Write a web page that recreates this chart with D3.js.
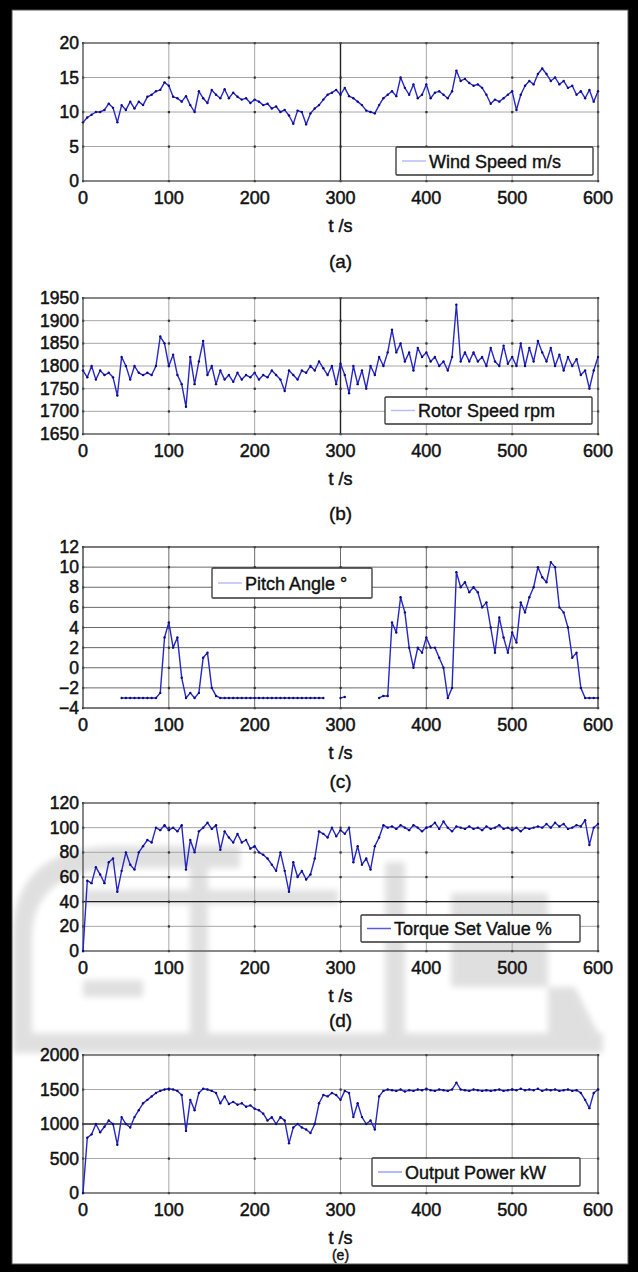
<!DOCTYPE html>
<html>
<head>
<meta charset="utf-8">
<script src="https://cdn.jsdelivr.net/npm/d3@7"></script>
<style>
  body { margin: 0; background: #000; }
  svg { display: block; }
  text { font-family: "Liberation Sans", Arial, sans-serif; fill: #111; }
</style>
</head>
<body>
<svg id="chart"></svg>
<script>
// time axis, one sample every 5 s
const time = d3.range(0, 601, 5);

const windSpeed = [8.5, 9.2, 9.6, 10.0, 10.0, 10.3, 11.2, 10.6, 8.5, 11.0, 10.3, 11.5, 10.5, 11.5, 11.0, 12.2, 12.5, 13.0, 13.2, 14.3,
  13.8, 12.2, 12.0, 11.5, 12.3, 11.0, 10.0, 13.0, 12.0, 11.3, 13.2, 12.5, 12.0, 13.3, 12.0, 12.8, 12.2, 11.8, 12.0, 11.3,
  11.8, 11.5, 11.0, 11.2, 10.5, 10.8, 10.0, 10.3, 9.5, 8.3, 10.2, 10.0, 8.2, 9.8, 10.5, 11.0, 11.8, 12.5, 12.8, 13.2,
  12.5, 13.5, 12.3, 12.0, 11.5, 11.0, 10.2, 10.0, 9.8, 11.0, 12.0, 12.5, 13.0, 12.3, 15.0, 13.5, 12.5, 14.0, 12.0, 12.5,
  14.0, 12.0, 12.8, 13.0, 12.5, 12.0, 13.0, 16.0, 14.5, 14.8, 14.2, 13.8, 14.0, 13.5, 12.5, 11.2, 11.8, 11.5, 12.0, 12.5,
  13.0, 10.3, 12.5, 13.8, 14.5, 14.0, 15.5, 16.3, 15.5, 14.5, 15.0, 14.0, 14.5, 13.5, 13.8, 12.5, 13.0, 12.0, 13.2, 11.5,
  13.0];

const rotorSpeed = [1790, 1775, 1800, 1770, 1790, 1780, 1785, 1775, 1735, 1820, 1800, 1770, 1800, 1785, 1780, 1785, 1780, 1800, 1865, 1850,
  1800, 1825, 1780, 1760, 1710, 1820, 1760, 1810, 1855, 1780, 1800, 1760, 1790, 1770, 1780, 1765, 1785, 1770, 1780, 1775,
  1785, 1770, 1780, 1775, 1790, 1780, 1770, 1745, 1790, 1780, 1770, 1790, 1785, 1800, 1790, 1810, 1795, 1780, 1800, 1760,
  1805, 1780, 1740, 1800, 1760, 1790, 1750, 1800, 1780, 1820, 1800, 1830, 1880, 1830, 1850, 1810, 1830, 1790, 1840, 1820,
  1830, 1810, 1820, 1800, 1810, 1790, 1820, 1935, 1810, 1830, 1810, 1830, 1810, 1820, 1800, 1840, 1810, 1800, 1845, 1805,
  1820, 1800, 1850, 1800, 1840, 1810, 1855, 1830, 1810, 1840, 1800, 1825, 1790, 1820, 1800, 1815, 1780, 1790, 1750, 1790,
  1820];

const pitchAngle = [null, null, null, null, null, null, null, null, null, -3, -3, -3, -3, -3, -3, -3, -3, -3, -2.5, 3,
  4.5, 2, 3, -1, -3, -2.5, -3, -2.5, 1, 1.5, -2, -2.8, -3, -3, -3, -3, -3, -3, -3, -3,
  -3, -3, -3, -3, -3, -3, -3, -3, -3, -3, -3, -3, -3, -3, -3, -3, -3, null, null, null,
  -3, -2.9, null, null, null, null, null, null, null, -3, -2.8, -2.8, 4.5, 3.5, 7, 5.5, 2, 0, 2, 1.5,
  3, 2, 2, 1, 0, -3, -2, 9.5, 8, 8.5, 7.5, 8, 7.5, 6, 6.5, 4, 1.5, 5, 3, 1.5,
  3.5, 2.5, 6.5, 5.5, 7, 8, 10, 9, 8.5, 10.5, 10, 6, 5.5, 4, 1, 1.5, -2, -3, -3, -3,
  -3];

const torque = [0, 57, 55, 68, 62, 55, 72, 75, 48, 65, 80, 70, 66, 80, 85, 90, 88, 100, 98, 102,
  98, 100, 97, 102, 66, 90, 80, 97, 100, 104, 99, 102, 82, 97, 92, 88, 95, 88, 90, 83,
  85, 80, 78, 75, 70, 65, 80, 65, 48, 72, 60, 65, 58, 62, 75, 97, 95, 92, 100, 93,
  98, 95, 100, 72, 85, 70, 75, 66, 85, 92, 102, 100, 101, 99, 102, 100, 98, 102, 100, 97,
  100, 101, 104, 99, 105, 100, 97, 101, 100, 99, 101, 99, 100, 98, 101, 99, 100, 102, 99, 100,
  98, 100, 97, 100, 99, 100, 101, 100, 103, 100, 104, 101, 103, 99, 100, 102, 101, 106, 86, 100,
  103];

const power = [0, 800, 850, 1000, 880, 960, 1050, 1000, 700, 1100, 1000, 950, 1100, 1200, 1300, 1350, 1400, 1450, 1480, 1500,
  1510, 1500, 1480, 1420, 900, 1350, 1200, 1450, 1510, 1500, 1480, 1450, 1300, 1400, 1290, 1320, 1280, 1300, 1250, 1270,
  1220, 1200, 1150, 1050, 1100, 1000, 1100, 1050, 720, 950, 1000, 950, 920, 870, 1000, 1300, 1420, 1400, 1450, 1420,
  1350, 1480, 1450, 1100, 1300, 1100, 1000, 1050, 920, 1400, 1480, 1500, 1490, 1480, 1500, 1470, 1490, 1480, 1500, 1490,
  1510, 1490, 1480, 1500, 1490, 1480, 1500, 1600, 1500, 1490, 1480, 1500, 1490, 1480, 1490, 1480, 1490, 1500, 1480, 1490,
  1500, 1490, 1510, 1490, 1500, 1490, 1510, 1480, 1500, 1490, 1500, 1480, 1490, 1500, 1480, 1490, 1450, 1350, 1230, 1450,
  1500];

const xTicks = [0, 100, 200, 300, 400, 500, 600];
const windTicks = [0, 5, 10, 15, 20];
const rotorTicks = [1650, 1700, 1750, 1800, 1850, 1900, 1950];
const pitchTicks = [-4, -2, 0, 2, 4, 6, 8, 10, 12];
const torqueTicks = [0, 20, 40, 60, 80, 100, 120];
const powerTicks = [0, 500, 1000, 1500, 2000];

const legendLabels = ["Wind Speed m/s", "Rotor Speed rpm", "Pitch Angle °", "Torque Set Value %", "Output Power kW"];
const captions = ["(a)", "(b)", "(c)", "(d)", "(e)"];
const xLabel = "t /s";

const W = 638, H = 1272;
const left = 83, right = 598;

const panels = [
  { values: windSpeed, ticks: windTicks, top: 43, bottom: 181, cap: 268, capSize: 19,
    leg: { x: 396, y: 147, w: 197, h: 28, sample: "#b8bcff" }, darkX: [300], darkY: [] },
  { values: rotorSpeed, ticks: rotorTicks, top: 298, bottom: 434, cap: 520, capSize: 19,
    leg: { x: 385, y: 397, w: 207, h: 27, sample: "#b8bcff" }, darkX: [300], darkY: [] },
  { values: pitchAngle, ticks: pitchTicks, top: 547, bottom: 708, cap: 788, capSize: 19,
    leg: { x: 212, y: 568, w: 160, h: 30, sample: "#b8bcff" }, darkX: [], darkY: [], gridColor: "#6a6a6a" },
  { values: torque, ticks: torqueTicks, top: 803, bottom: 951, cap: 1027, capSize: 19,
    leg: { x: 361, y: 915, w: 219, h: 27, sample: "#5a5ae0" }, darkX: [], darkY: [40] },
  { values: power, ticks: powerTicks, top: 1055, bottom: 1193, cap: 1260, capSize: 14,
    leg: { x: 372, y: 1158, w: 208, h: 28, sample: "#9aa0ff" }, darkX: [], darkY: [1000] }
];

const svg = d3.select("#chart").attr("width", W).attr("height", H);
svg.append("rect").attr("width", W).attr("height", H).attr("fill", "#fff");

// soft watermark behind panels (d) and (e)
svg.append("defs").append("filter").attr("id", "soft")
  .append("feGaussianBlur").attr("stdDeviation", 3);
const wm = svg.append("g").attr("fill", "#000").attr("opacity", 0.12).attr("filter", "url(#soft)");
wm.append("path").attr("d", "M13,1033 L13,930 Q16,850 110,846 L240,846 L240,868 L112,868 Q34,874 32,935 L32,1033 Z");
wm.append("rect").attr("x", 83).attr("y", 890).attr("width", 255).attr("height", 14);
wm.append("rect").attr("x", 83).attr("y", 980).attr("width", 60).attr("height", 17);
wm.append("rect").attr("x", 190).attr("y", 868).attr("width", 18).attr("height", 165);
wm.append("rect").attr("x", 385).attr("y", 862).attr("width", 20).attr("height", 171);
wm.append("rect").attr("x", 451).attr("y", 893).attr("width", 97).attr("height", 94);
wm.append("path").attr("d", "M548,987 L575,987 L598,1033 L548,1033 Z");
wm.append("rect").attr("x", 13).attr("y", 1033).attr("width", 590).attr("height", 20);

const x = d3.scaleLinear().domain([0, 600]).range([left, right]);

panels.forEach((p, i) => {
  const y = d3.scaleLinear().domain(d3.extent(p.ticks)).range([p.bottom, p.top]);
  const g = svg.append("g");
  const gridColor = p.gridColor || "#a8a8a8";

  // grid
  g.append("g").selectAll("line").data(p.ticks).join("line")
    .attr("x1", left).attr("x2", right)
    .attr("y1", d => y(d)).attr("y2", d => y(d))
    .attr("stroke", d => p.darkY.includes(d) ? "#222" : gridColor)
    .attr("stroke-width", d => p.darkY.includes(d) ? 1.4 : 1);
  g.append("g").selectAll("line").data(xTicks).join("line")
    .attr("y1", p.top).attr("y2", p.bottom)
    .attr("x1", d => x(d)).attr("x2", d => x(d))
    .attr("stroke", d => p.darkX.includes(d) ? "#222" : gridColor)
    .attr("stroke-width", d => p.darkX.includes(d) ? 1.4 : 1);

  // darker dots where grid lines cross
  const cross = d3.cross(xTicks, p.ticks);
  g.append("g").selectAll("rect").data(cross).join("rect")
    .attr("x", d => x(d[0]) - 1).attr("y", d => y(d[1]) - 1)
    .attr("width", 2.2).attr("height", 2.2).attr("fill", "#333");

  // axis box
  g.append("rect").attr("x", left).attr("y", p.top)
    .attr("width", right - left).attr("height", p.bottom - p.top)
    .attr("fill", "none").attr("stroke", "#555").attr("stroke-width", 1.2);

  // y tick labels
  g.append("g").selectAll("text").data(p.ticks).join("text")
    .attr("x", left - 4).attr("y", d => y(d) + 6)
    .attr("text-anchor", "end").attr("font-size", 17.5)
    .attr("stroke", "#111").attr("stroke-width", 0.5)
    .text(d => d < 0 ? "\u2212" + Math.abs(d) : d);

  // x tick labels
  g.append("g").selectAll("text").data(xTicks).join("text")
    .attr("x", d => x(d)).attr("y", p.bottom + 23)
    .attr("text-anchor", "middle").attr("font-size", 18)
    .attr("stroke", "#111").attr("stroke-width", 0.5)
    .text(d => d);

  g.append("text").attr("x", (left + right) / 2).attr("y", p.bottom + 51)
    .attr("text-anchor", "middle").attr("font-size", 18)
    .attr("stroke", "#111").attr("stroke-width", 0.5)
    .text(xLabel);

  g.append("text").attr("x", (left + right) / 2).attr("y", p.cap)
    .attr("text-anchor", "middle").attr("font-size", p.capSize)
    .attr("stroke", "#111").attr("stroke-width", 0.4)
    .text(captions[i]);

  // data line
  const pts = time.map((t, k) => ({ t, v: p.values[k] }));
  const line = d3.line()
    .defined(d => d.v !== null)
    .x(d => x(d.t)).y(d => y(d.v));
  g.append("path").datum(pts).attr("d", line)
    .attr("fill", "none").attr("stroke", "#2626c4").attr("stroke-width", 1.4)
    .attr("stroke-linejoin", "round");
  g.append("g").selectAll("circle").data(pts.filter(d => d.v !== null)).join("circle")
    .attr("cx", d => x(d.t)).attr("cy", d => y(d.v)).attr("r", 1.2)
    .attr("fill", "#0c0c80");

  // legend
  const L = p.leg;
  const lg = g.append("g").attr("transform", `translate(${L.x},${L.y})`);
  lg.append("rect").attr("width", L.w).attr("height", L.h)
    .attr("fill", "#fff").attr("stroke", "#333").attr("stroke-width", 1.3).attr("rx", 1);
  lg.append("line").attr("x1", 6).attr("x2", 30).attr("y1", L.h / 2).attr("y2", L.h / 2)
    .attr("stroke", L.sample).attr("stroke-width", 1.5);
  lg.append("text").attr("x", 33).attr("y", L.h / 2 + 6.5).attr("font-size", 18)
    .attr("stroke", "#111").attr("stroke-width", 0.4)
    .text(legendLabels[i]);
});

// black frame round the figure
svg.append("path")
  .attr("fill", "#000").attr("fill-rule", "evenodd")
  .attr("d", `M0,0 H${W} V${H} H0 Z M12,10 V1264 H628 V10 Z`);
svg.append("rect").attr("x", 12).attr("y", 10).attr("width", 616).attr("height", 1254)
  .attr("fill", "none").attr("stroke", "#555").attr("stroke-width", 1);
</script>
</body>
</html>
